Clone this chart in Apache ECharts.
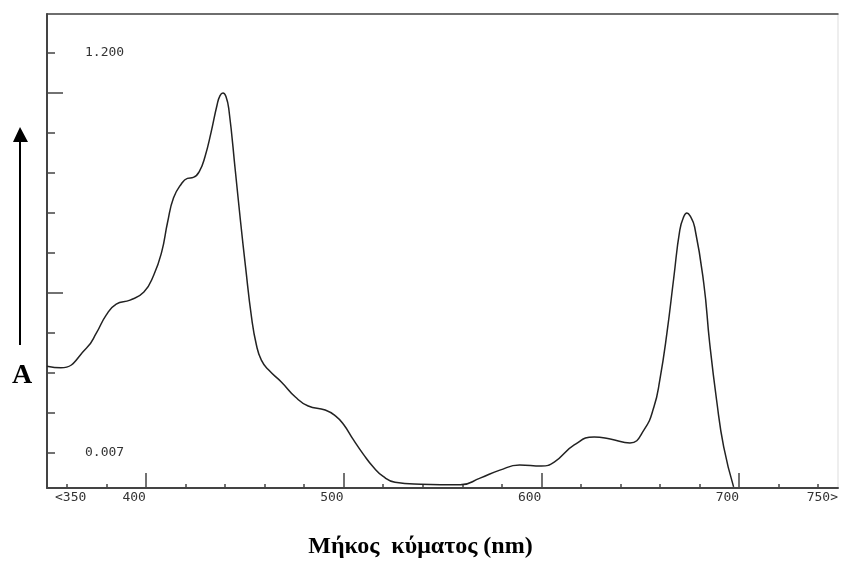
<!DOCTYPE html>
<html>
<head>
<meta charset="utf-8">
<script src="https://cdn.jsdelivr.net/npm/echarts@6/dist/echarts.min.js"></script>
<style>
  html, body { margin: 0; padding: 0; background: #fff; }
  #spectrumChart { width: 841px; height: 564px; }
</style>
</head>
<body>
<div id="spectrumChart"></div>
<script>
// wavelength (nm)
const wavelengths = [350, 357, 370, 375, 380, 385, 392, 399, 404, 408, 411, 414, 418, 421, 424, 427, 430, 433, 436, 437.5, 439, 440.5, 442, 445.3, 447.9, 450.4, 453.4, 455.9, 458.4, 462, 468.5, 475.6, 482.1, 490.7, 496, 500, 505, 510, 515, 520, 526, 539, 559, 569, 579, 589, 600, 606.5, 616.6, 626.7, 634.8, 644.8, 651.9, 656.9, 659.9, 663.5, 667, 670, 672, 673.6, 675.2, 677.5, 682.1, 685.1, 688.6, 692.2, 697.2];
// absorbance
const absorbance = [0.266, 0.261, 0.320, 0.365, 0.419, 0.451, 0.463, 0.487, 0.538, 0.607, 0.696, 0.768, 0.810, 0.826, 0.829, 0.846, 0.893, 0.964, 1.045, 1.073, 1.081, 1.070, 1.030, 0.845, 0.696, 0.562, 0.413, 0.329, 0.284, 0.255, 0.219, 0.174, 0.147, 0.135, 0.117, 0.092, 0.046, 0.003, -0.035, -0.063, -0.080, -0.086, -0.088, -0.068, -0.044, -0.029, -0.032, -0.020, 0.031, 0.055, 0.049, 0.037, 0.076, 0.144, 0.225, 0.365, 0.532, 0.672, 0.712, 0.723, 0.714, 0.681, 0.514, 0.335, 0.165, 0.025, -0.094];

const xMinorTicks = [360, 380, 400, 420, 440, 460, 480, 500, 520, 540, 560, 580, 600, 620, 640, 660, 680, 700, 720, 740];
const xMajorTicks = [400, 500, 600, 700];
const xLabelValues = [400, 500, 600, 700, 750];
const xLabelText = { 350: "<350", 400: "400", 500: "500", 600: "600", 700: "700", 750: "750>" };

const yTicks = [0.007, 0.1263, 0.2456, 0.3649, 0.4842, 0.6035, 0.7228, 0.8421, 0.9614, 1.0807, 1.200];
const yLongTicks = [0.4842, 1.0807];
const yLabelValues = [0.007, 1.200];

const chart = echarts.init(document.getElementById("spectrumChart"));

const labelFont = {
  color: "#333",
  fontFamily: "DejaVu Sans Mono",
  fontSize: 13,
};
const axisColor = "#444";

const option = {
  backgroundColor: "#fff",
  animation: false,
  title: {
    text: "Μήκος  κύματος (nm)",
    left: "center",
    top: 530,
    textStyle: {
      fontFamily: "Liberation Serif",
      fontWeight: "bold",
      fontSize: 24,
      color: "#000",
    },
  },
  grid: {
    left: 47,
    right: 0,
    top: 14,
    bottom: 76,
    show: true,
    borderColor: "#ddd",
    borderWidth: 1,
  },
  xAxis: [
    {
      type: "value",
      min: 350,
      max: 750,
      position: "bottom",
      splitLine: { show: false },
      axisLine: { show: true, onZero: false, lineStyle: { color: axisColor, width: 2 } },
      axisTick: {
        show: true,
        inside: true,
        length: 4,
        customValues: xMinorTicks,
        lineStyle: { color: axisColor, width: 1.5 },
      },
      axisLabel: {
        ...labelFont,
        customValues: xLabelValues,
        align: "right",
        margin: 3,
        formatter: (v) => xLabelText[v],
      },
    },
    {
      // taller ticks at each hundred and the left label
      type: "value",
      min: 350,
      max: 750,
      position: "bottom",
      splitLine: { show: false },
      axisLine: { show: false, onZero: false },
      axisTick: {
        show: true,
        inside: true,
        length: 15,
        customValues: xMajorTicks,
        lineStyle: { color: axisColor, width: 1.5 },
      },
      axisLabel: {
        ...labelFont,
        customValues: [350],
        align: "left",
        margin: 3,
        padding: [0, 0, 0, 8],
        formatter: (v) => xLabelText[v],
      },
    },
    {
      // top frame line
      type: "value",
      min: 350,
      max: 750,
      position: "top",
      splitLine: { show: false },
      axisLine: { show: true, onZero: false, lineStyle: { color: axisColor, width: 1.5 } },
      axisTick: { show: false },
      axisLabel: { show: false },
    },
  ],
  yAxis: [
    {
      type: "value",
      min: -0.0974,
      max: 1.3163,
      position: "left",
      splitLine: { show: false },
      axisLine: { show: true, onZero: false, lineStyle: { color: axisColor, width: 2 } },
      axisTick: {
        show: true,
        inside: true,
        length: 8,
        customValues: yTicks,
        lineStyle: { color: axisColor, width: 1.5 },
      },
      axisLabel: {
        ...labelFont,
        inside: true,
        margin: 38,
        customValues: yLabelValues,
        formatter: (v) => v.toFixed(3),
      },
    },
    {
      type: "value",
      min: -0.0974,
      max: 1.3163,
      position: "left",
      splitLine: { show: false },
      axisLine: { show: false, onZero: false },
      axisTick: {
        show: true,
        inside: true,
        length: 16,
        customValues: yLongTicks,
        lineStyle: { color: axisColor, width: 1.5 },
      },
      axisLabel: { show: false },
    },
  ],
  graphic: [
    {
      type: "line",
      shape: { x1: 20, y1: 140, x2: 20, y2: 345 },
      style: { stroke: "#000", lineWidth: 2 },
    },
    {
      type: "polygon",
      shape: { points: [[20, 127], [13, 142], [28, 142]] },
      style: { fill: "#000" },
    },
    {
      type: "text",
      left: 12,
      top: 362,
      style: {
        text: "A",
        font: "bold 28px 'Liberation Serif'",
        fill: "#000",
      },
    },
  ],
  series: [
    {
      type: "line",
      xAxisIndex: 0,
      yAxisIndex: 0,
      data: wavelengths.map((w, i) => [w, absorbance[i]]),
      smooth: 0.5,
      symbol: "none",
      lineStyle: { color: "#222", width: 1.5 },
    },
  ],
};

option && chart.setOption(option);
</script>
</body>
</html>
